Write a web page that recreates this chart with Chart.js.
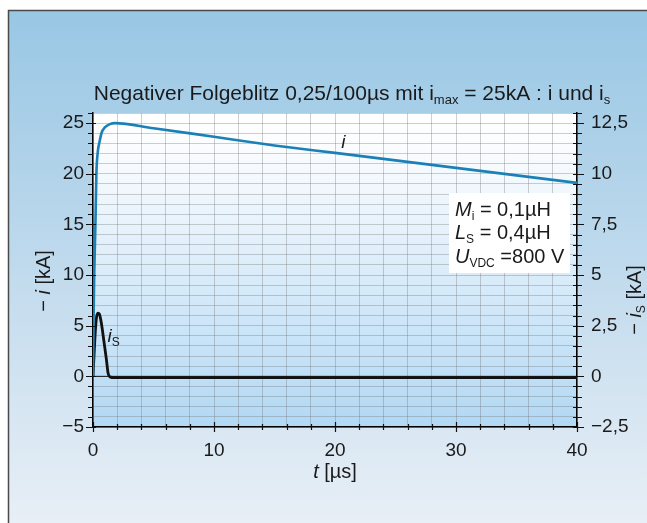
<!DOCTYPE html>
<html>
<head>
<meta charset="utf-8">
<script src="https://cdn.jsdelivr.net/npm/chart.js@4.4.1/dist/chart.umd.min.js"></script>
<style>
  html, body { margin: 0; padding: 0; background: #fff; }
  #wrap { width: 647px; height: 523px; position: relative; }
</style>
</head>
<body>
<div id="wrap"><canvas id="chart"></canvas></div>
<script>
// lightning current i (kA) over time (µs)
const tMain = [0, 0.05, 0.1, 0.2, 0.28, 0.4, 0.55, 0.7, 1.0, 1.4, 1.8, 5, 10, 15, 20, 25, 30, 35, 40];
const iMain = [0, 6, 10, 15, 20, 22.2, 23.2, 24, 24.6, 24.9, 25, 24.5, 23.65, 22.8, 22.06, 21.32, 20.58, 19.84, 19.1];

// shield current i_S (kA, right axis)
const tShunt = [0, 0.1, 0.2, 0.3, 0.42, 0.52, 0.7, 0.9, 1.1, 1.25, 1.45, 1.7, 40];
const iShunt = [0, 1.2, 2.3, 2.95, 3.12, 3.08, 2.6, 1.74, 0.87, 0.15, -0.04, -0.06, -0.06];

// labelled ticks
const xLabels = [0, 10, 20, 30, 40];
const yLabels = [-5, 0, 5, 10, 15, 20, 25];
const y2Labels = [-2.5, 0, 2.5, 5, 7.5, 10, 12.5];

const FONT = '"Liberation Sans", Arial, Helvetica, sans-serif';

function fmt(v) {
  return String(v).replace('.', ',').replace('-', '\u2212');
}

function fontFor(p, size) {
  const s = p.sub ? Math.round(size * 0.62) : size;
  return (p.it ? 'italic ' : '') + s + 'px ' + FONT;
}

// draws text made of plain/italic/subscript pieces
function drawRich(ctx, parts, x, y, size, align) {
  let w = 0;
  parts.forEach(p => { ctx.font = fontFor(p, size); w += ctx.measureText(p.t).width; });
  let cx = align === 'center' ? x - w / 2 : (align === 'right' ? x - w : x);
  ctx.textAlign = 'left';
  ctx.textBaseline = 'alphabetic';
  parts.forEach(p => {
    ctx.font = fontFor(p, size);
    ctx.fillText(p.t, cx, y + (p.sub ? size * 0.2 : 0));
    cx += ctx.measureText(p.t).width;
  });
  return w;
}

const backdrop = {
  id: 'backdrop',
  beforeDraw(chart) {
    const { ctx, chartArea: a, width, height } = chart;
    ctx.save();
    ctx.fillStyle = '#fff';
    ctx.fillRect(0, 0, width, height);
    const g = ctx.createLinearGradient(0, 10, 0, height);
    g.addColorStop(0, '#98c7e4');
    g.addColorStop(0.45, '#bcd8ec');
    g.addColorStop(1, '#e8eff6');
    ctx.fillStyle = g;
    ctx.fillRect(8, 10, width - 8, height - 10);
    ctx.strokeStyle = '#4a4a4a';
    ctx.lineWidth = 1.5;
    ctx.beginPath();
    ctx.moveTo(8.5, height);
    ctx.lineTo(8.5, 10.5);
    ctx.lineTo(width, 10.5);
    ctx.stroke();
    const p = ctx.createLinearGradient(0, a.top, 0, a.bottom);
    p.addColorStop(0, '#ffffff');
    p.addColorStop(0.15, '#f8fbfe');
    p.addColorStop(1, '#b2d8f4');
    ctx.fillStyle = p;
    ctx.fillRect(a.left, a.top, a.right - a.left, a.bottom - a.top);
    ctx.restore();
  }
};

const tickMarks = {
  id: 'tickMarks',
  afterDraw(chart) {
    const { ctx, chartArea: a, scales } = chart;
    ctx.save();
    ctx.strokeStyle = '#111';
    ctx.lineWidth = 1.2;
    ctx.beginPath();
    scales.y.ticks.forEach(t => {
      const py = Math.round(scales.y.getPixelForValue(t.value)) + 0.5;
      const big = yLabels.includes(t.value);
      ctx.moveTo(a.left - (big ? 7 : 5), py);
      ctx.lineTo(a.left + (big ? 3 : 0), py);
    });
    scales.y2.ticks.forEach(t => {
      const py = Math.round(scales.y2.getPixelForValue(t.value)) + 0.5;
      const big = y2Labels.includes(t.value);
      ctx.moveTo(a.right - 4, py);
      ctx.lineTo(a.right + (big ? 7 : 5), py);
    });
    scales.x.ticks.forEach(t => {
      const px = Math.round(scales.x.getPixelForValue(t.value)) + 0.5;
      const big = xLabels.includes(t.value);
      ctx.moveTo(px, a.bottom - (big ? 5 : 3));
      ctx.lineTo(px, a.bottom + (big ? 5 : 3));
    });
    ctx.stroke();
    ctx.restore();
  }
};

const captions = {
  id: 'captions',
  afterDraw(chart) {
    const { ctx, scales } = chart;
    ctx.save();
    ctx.fillStyle = '#1a1a1a';

    // title
    drawRich(ctx, [
      { t: 'Negativer Folgeblitz 0,25/100µs mit i' }, { t: 'max', sub: true },
      { t: ' = 25kA : i und i' }, { t: 's', sub: true }
    ], 352, 100, 21, 'center');

    // parameter box
    ctx.fillStyle = '#fff';
    ctx.fillRect(449, 193, 121, 80);
    ctx.fillStyle = '#1a1a1a';
    drawRich(ctx, [{ t: 'M', it: true }, { t: 'i', sub: true }, { t: ' = 0,1µH' }], 455, 216, 20, 'left');
    drawRich(ctx, [{ t: 'L', it: true }, { t: 'S', sub: true }, { t: ' = 0,4µH' }], 455, 239, 20, 'left');
    drawRich(ctx, [{ t: 'U', it: true }, { t: 'VDC', sub: true }, { t: ' =800 V' }], 455, 263, 20, 'left');

    // curve labels
    const xs = scales.x;
    drawRich(ctx, [{ t: 'i', it: true }], xs.getPixelForValue(20.7), 148, 19, 'center');
    drawRich(ctx, [{ t: 'i', it: true }, { t: 'S', sub: true }], xs.getPixelForValue(1.2), 342, 19, 'left');

    // axis titles
    drawRich(ctx, [{ t: 't', it: true }, { t: ' [µs]' }], 335, 478, 20, 'center');
    ctx.save();
    ctx.translate(50, 281);
    ctx.rotate(-Math.PI / 2);
    drawRich(ctx, [{ t: '\u2212 ' }, { t: 'i', it: true }, { t: ' [kA]' }], 0, 0, 20, 'center');
    ctx.restore();
    ctx.save();
    ctx.translate(641, 300);
    ctx.rotate(-Math.PI / 2);
    drawRich(ctx, [{ t: '\u2212 ' }, { t: 'i', it: true }, { t: 'S', sub: true }, { t: ' [kA]' }], 0, 0, 20, 'center');
    ctx.restore();

    ctx.restore();
  }
};

const gridColor = 'rgba(110,110,110,0.33)';

new Chart(document.getElementById('chart'), {
  type: 'line',
  data: {
    datasets: [
      {
        data: [{ x: 0, y: 0 }, { x: 40, y: 0 }],
        borderColor: '#111', borderWidth: 1, pointRadius: 0, yAxisID: 'y'
      },
      {
        data: tMain.map((t, k) => ({ x: t, y: iMain[k] })),
        borderColor: '#1a80b6', borderWidth: 2.6, pointRadius: 0,
        cubicInterpolationMode: 'monotone', yAxisID: 'y'
      },
      {
        data: tShunt.map((t, k) => ({ x: t, y: iShunt[k] })),
        borderColor: '#111', borderWidth: 2.8, pointRadius: 0,
        cubicInterpolationMode: 'monotone', yAxisID: 'y2'
      }
    ]
  },
  options: {
    responsive: true,
    maintainAspectRatio: false,
    animation: false,
    events: [],
    layout: { padding: { left: 0, right: 0, top: 113, bottom: 0 } },
    plugins: { legend: { display: false }, tooltip: { enabled: false }, title: { display: false } },
    scales: {
      x: {
        type: 'linear', min: 0, max: 40,
        afterFit: s => { s.height = 96; },
        grid: { color: gridColor, drawTicks: false },
        border: { color: '#000', width: 1.5 },
        ticks: {
          stepSize: 2, autoSkip: false, maxRotation: 0, padding: 12,
          color: '#1a1a1a', font: { family: FONT, size: 19 },
          callback: v => xLabels.includes(v) ? fmt(v) : ''
        }
      },
      y: {
        position: 'left', min: -5, max: 26,
        afterFit: s => { s.width = 93; },
        grid: { color: gridColor, drawTicks: false },
        border: { color: '#000', width: 1.5 },
        ticks: {
          stepSize: 1, autoSkip: false, padding: 9,
          color: '#1a1a1a', font: { family: FONT, size: 19 },
          callback: v => yLabels.includes(v) ? fmt(v) : ''
        }
      },
      y2: {
        position: 'right', min: -2.5, max: 13,
        afterFit: s => { s.width = 70; },
        grid: { drawOnChartArea: false, drawTicks: false },
        border: { color: '#000', width: 1.5 },
        ticks: {
          stepSize: 0.5, autoSkip: false, padding: 14,
          color: '#1a1a1a', font: { family: FONT, size: 19 },
          callback: v => y2Labels.includes(v) ? fmt(v) : ''
        }
      }
    }
  },
  plugins: [backdrop, tickMarks, captions]
});
</script>
</body>
</html>
